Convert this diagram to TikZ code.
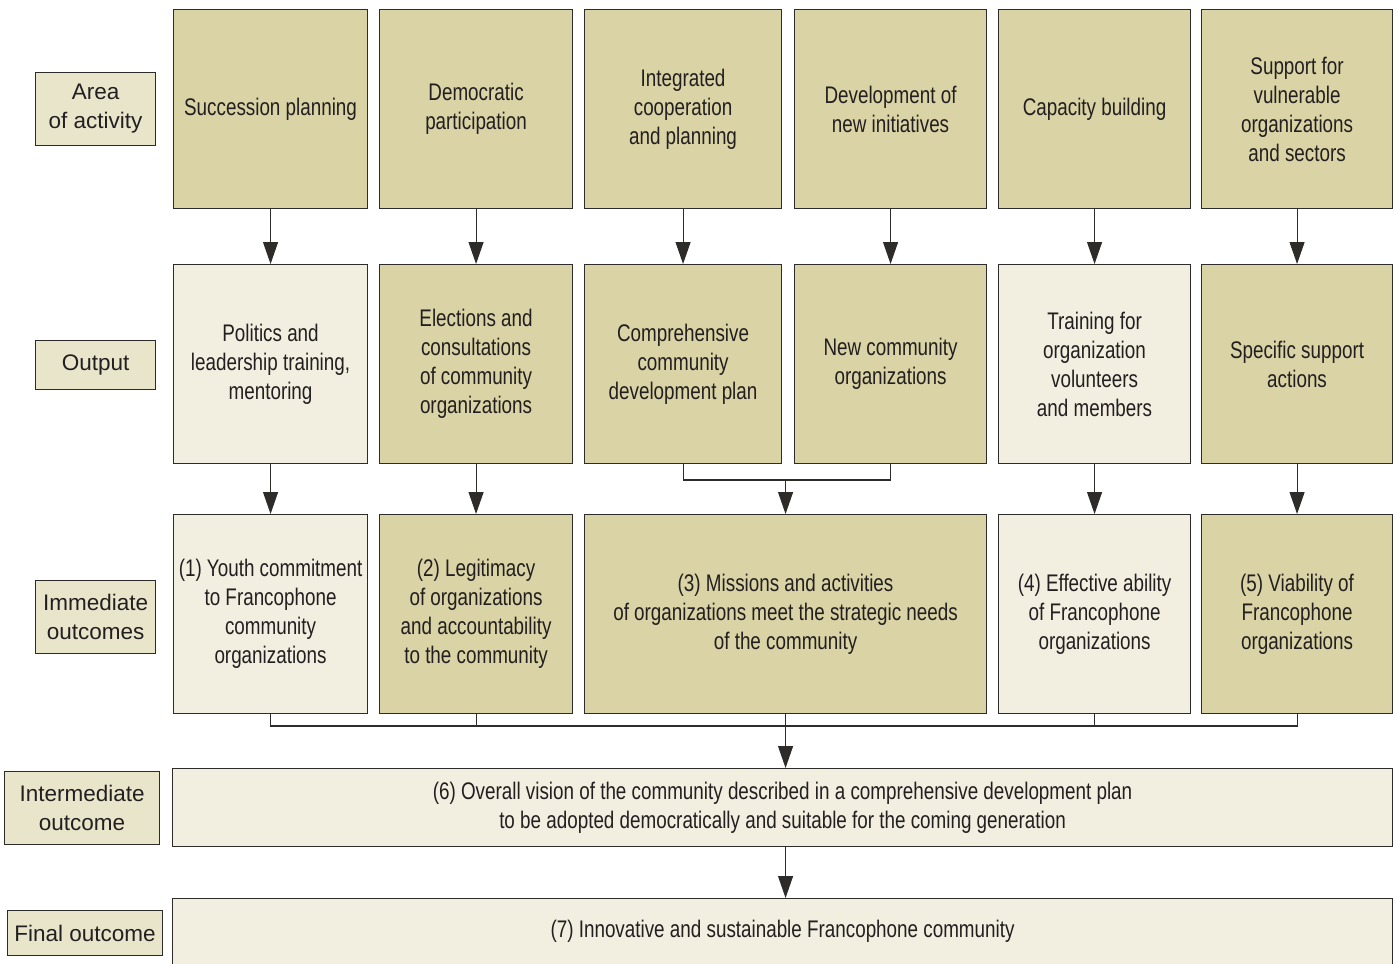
\documentclass[tikz,border=0pt]{standalone}
\usepackage{fontspec}
\setmainfont{Liberation Sans}[FakeStretch=0.785]
\newfontfamily\lblfont{Liberation Sans}
\usetikzlibrary{arrows.meta}
\definecolor{darkk}{HTML}{D9D3A5}
\definecolor{lightk}{HTML}{F2EFE1}
\definecolor{lblk}{HTML}{E9E5CB}
\definecolor{edge}{HTML}{2E2B2B}
\definecolor{txt}{HTML}{231F20}
\tikzset{
  box/.style={draw=edge, line width=1.1pt, anchor=north west, align=center, text=txt,
    font=\fontsize{24}{29}\selectfont, inner sep=2pt},
  dk/.style={box, fill=darkk},
  lt/.style={box, fill=lightk},
  lbl/.style={draw=edge, line width=1.1pt, anchor=north west, fill=lblk, align=center, text=txt,
    font=\lblfont\fontsize{22.5}{29}\selectfont, inner sep=2pt},
  conn/.style={draw=edge, line width=1.1pt},
  arr/.style={conn, -{Triangle[length=22pt,width=15pt]}}
}
\begin{document}
\begin{tikzpicture}[x=1pt,y=-1pt]
\useasboundingbox (0,0) rectangle (1396,963);
% left labels
\node[lbl, minimum width=120pt, minimum height=73pt] (l1) at (35,72) {Area\\of activity};
\node[lbl, minimum width=120pt, minimum height=49pt] (l2) at (35,340) {Output};
\node[lbl, minimum width=120pt, minimum height=73pt] (l3) at (35,580) {Immediate\\outcomes};
\node[lbl, minimum width=155pt, minimum height=73pt] (l4) at (4,771) {Intermediate\\outcome};
\node[lbl, minimum width=155pt, minimum height=45pt] (l5) at (7,910) {Final outcome};
% row 1
\node[dk, minimum width=194pt, minimum height=199pt] (a1) at (173,9) {Succession planning};
\node[dk, minimum width=193pt, minimum height=199pt] (a2) at (379,9) {Democratic\\participation};
\node[dk, minimum width=197pt, minimum height=199pt] (a3) at (584,9) {Integrated\\cooperation\\and planning};
\node[dk, minimum width=192pt, minimum height=199pt] (a4) at (794,9) {Development of\\new initiatives};
\node[dk, minimum width=192pt, minimum height=199pt] (a5) at (998,9) {Capacity building};
\node[dk, minimum width=191pt, minimum height=199pt] (a6) at (1201,9) {Support for\\vulnerable\\organizations\\and sectors};
% row 2
\node[lt, minimum width=194pt, minimum height=199pt] (b1) at (173,264) {Politics and\\leadership training,\\mentoring};
\node[dk, minimum width=193pt, minimum height=199pt] (b2) at (379,264) {Elections and\\consultations\\of community\\organizations};
\node[dk, minimum width=197pt, minimum height=199pt] (b3) at (584,264) {Comprehensive\\community\\development plan};
\node[dk, minimum width=192pt, minimum height=199pt] (b4) at (794,264) {New community\\organizations};
\node[lt, minimum width=192pt, minimum height=199pt] (b5) at (998,264) {Training for\\organization\\volunteers\\and members};
\node[dk, minimum width=191pt, minimum height=199pt] (b6) at (1201,264) {Specific support\\actions};
% row 3
\node[lt, minimum width=194pt, minimum height=199pt] (c1) at (173,514) {(1) Youth commitment\\to Francophone\\community\\organizations};
\node[dk, minimum width=193pt, minimum height=199pt] (c2) at (379,514) {(2) Legitimacy\\of organizations\\and accountability\\to the community};
\node[dk, minimum width=402pt, minimum height=199pt] (c3) at (584,514) {(3) Missions and activities\\of organizations meet the strategic needs\\of the community};
\node[lt, minimum width=192pt, minimum height=199pt] (c5) at (998,514) {(4) Effective ability\\of Francophone\\organizations};
\node[dk, minimum width=191pt, minimum height=199pt] (c6) at (1201,514) {(5) Viability of\\Francophone\\organizations};
% intermediate and final
\node[lt, minimum width=1220pt, minimum height=78pt] (d) at (172,768) {(6) Overall vision of the community described in a comprehensive development plan\\to be adopted democratically and suitable for the coming generation};
\node[lt, minimum width=1220pt, minimum height=80pt] (e) at (172,898) {};
\node[text=txt, font=\fontsize{24}{29}\selectfont] (et) at (e.north |- 0,931) {(7) Innovative and sustainable Francophone community};
% arrows row1 -> row2
\draw[arr] (a1.south) -- (b1.north);
\draw[arr] (a2.south) -- (b2.north);
\draw[arr] (a3.south) -- (b3.north);
\draw[arr] (a4.south) -- (b4.north);
\draw[arr] (a5.south) -- (b5.north);
\draw[arr] (a6.south) -- (b6.north);
% row2 -> row3
\draw[arr] (b1.south) -- (c1.north);
\draw[arr] (b2.south) -- (c2.north);
\draw[arr] (b5.south) -- (c5.north);
\draw[arr] (b6.south) -- (c6.north);
\coordinate (j1) at (c3.north |- 0,480);
\draw[conn] (b3.south) |- (j1) -| (b4.south);
\draw[arr] (j1) -- (c3.north);
% row3 -> intermediate
\coordinate (j2) at (c3.south |- 0,726);
\draw[conn] (c1.south) |- (j2) -| (c6.south);
\draw[conn] (c2.south) -- (c2.south |- j2);
\draw[conn] (c5.south) -- (c5.south |- j2);
\draw[arr] (c3.south) -- (c3.south |- d.north);
% intermediate -> final
\draw[arr] (c3.south |- d.south) -- (c3.south |- e.north);
\end{tikzpicture}
\end{document}
